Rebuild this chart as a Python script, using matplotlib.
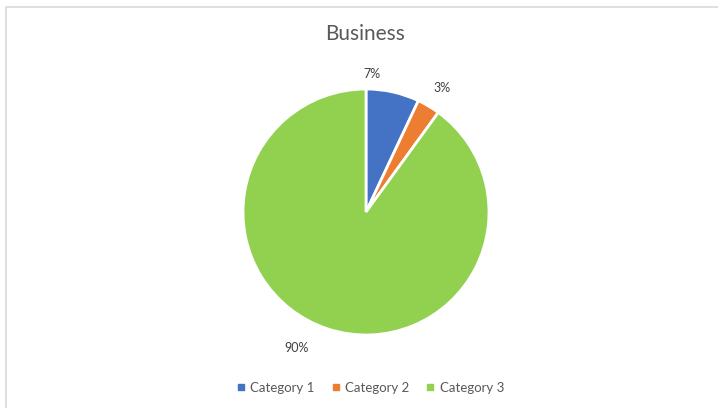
import numpy as np
import matplotlib
matplotlib.use('Agg')
import matplotlib.pyplot as plt
from matplotlib.lines import Line2D
from matplotlib.patches import Rectangle

plt.rcParams['font.family'] = ['Lato', 'DejaVu Sans']

# slice data
categories = ['Category 1', 'Category 2', 'Category 3']
shares = [7, 3, 90]
colors = ['#4472C4', '#ED7D31', '#92D050']
title = 'Business'

W, H = 718, 408
fig = plt.figure(figsize=(W / 100, H / 100), dpi=100)
fig.patch.set_facecolor('white')

# chart area frame
fig.add_artist(Rectangle((6 / W, -0.01), 1.0, 1 - 7 / H + 0.01,
                         transform=fig.transFigure, facecolor='none',
                         edgecolor='#d9d9d9', lw=1.2, zorder=1))

# pie centre (366, 212) px, radius 123 px
cx, cy, r = 366, 212, 123
side = 3 * r
ax = fig.add_axes([(cx - side / 2) / W, (H - cy - side / 2) / H, side / W, side / H])
ax.set_zorder(2)
wedges, _ = ax.pie(shares, colors=colors, startangle=90, counterclock=False,
                   radius=1.0, wedgeprops=dict(edgecolor='white', linewidth=2))
ax.set_xlim(-1.5, 1.5)
ax.set_ylim(-1.5, 1.5)
ax.set_aspect('equal')
ax.axis('off')

# data labels placed outside the slices (angle in degrees, radius)
label_pos = [(87.5, 1.12), (58.5, 1.18), (242.8, 1.24)]
for val, (ang, rad) in zip(shares, label_pos):
    t = np.deg2rad(ang)
    ax.text(rad * np.cos(t), rad * np.sin(t), f'{val}%', ha='center', va='center',
            fontsize=9, color='#404040')

fig.text(365 / W, 1 - 34 / H, title, ha='center', va='center',
         fontsize=15, color='#595959', zorder=3)

handles = [Line2D([], [], marker='s', linestyle='none', markersize=5,
                  markerfacecolor=c, markeredgecolor=c) for c in colors]
fig.legend(handles, categories, loc='center', bbox_to_anchor=(370 / W, 1 - 388 / H),
           ncol=3, frameon=False, fontsize=9.5, handlelength=0.8, handletextpad=0.3,
           columnspacing=1.2, labelcolor='#595959')

fig.savefig('out.png', dpi=100)
